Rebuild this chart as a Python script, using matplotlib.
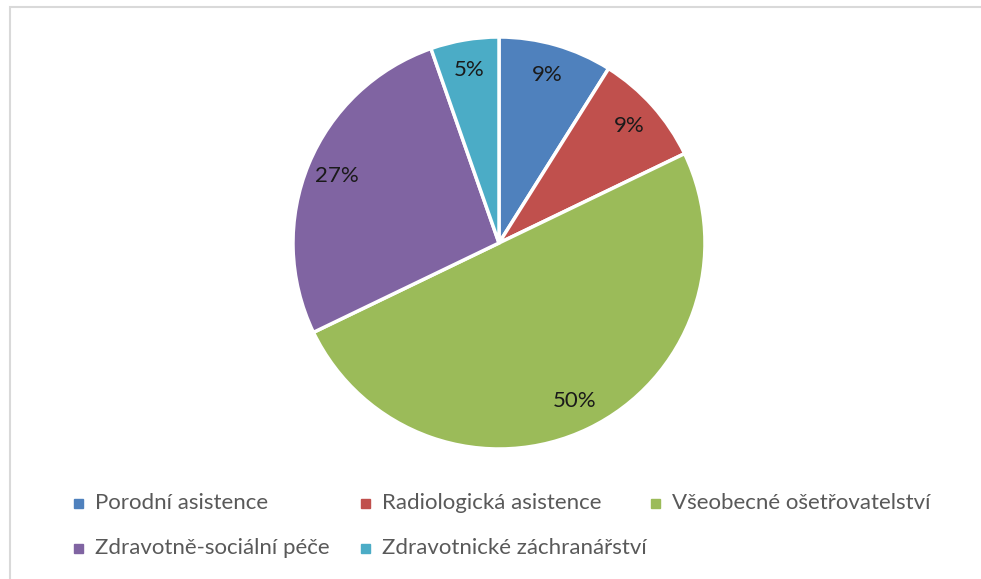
import matplotlib.pyplot as plt
from matplotlib.patches import Rectangle

labels = ['Porodní asistence', 'Radiologická asistence', 'Všeobecné ošetřovatelství',
          'Zdravotně-sociální péče', 'Zdravotnické záchranářství']
counts = [5, 5, 28, 15, 3]
colors = ['#4F81BD', '#C0504D', '#9BBB59', '#8064A2', '#4BACC6']

plt.rcParams['font.family'] = ['Lato', 'DejaVu Sans']

W, H = 981, 579
fig = plt.figure(figsize=(W / 100, H / 100), dpi=100)

# light frame (right/bottom edges fall outside the picture)
fig.patches.append(Rectangle((10 / W, -0.1), 1.2, (H - 7) / H + 0.1, transform=fig.transFigure,
                             fill=False, edgecolor='#D9D9D9', linewidth=1.5))

cx, cy, r = 499, 243, 206
ax = fig.add_axes([(cx - r) / W, (H - cy - r) / H, 2 * r / W, 2 * r / H])
wedges, texts, autotexts = ax.pie(counts, colors=colors, startangle=90, counterclock=False,
                                  autopct=lambda p: '%.0f%%' % p, pctdistance=0.85,
                                  wedgeprops=dict(edgecolor='white', linewidth=2.5),
                                  textprops=dict(fontsize=16, color='#1a1a1a'))
ax.set_xlim(-1, 1)
ax.set_ylim(-1, 1)
ax.set_aspect('equal')

# legend laid out like Excel: equal column widths, two rows
pos = [(78, 503), (365, 503), (655, 503), (78, 548), (365, 548)]
for (x, y), lab, col in zip(pos, labels, colors):
    fig.patches.append(Rectangle(((x - 4.5) / W, (H - y - 4.5) / H), 9 / W, 9 / H,
                                 transform=fig.transFigure, color=col))
    fig.text((x + 17) / W, (H - y) / H, lab, fontsize=16, color='#595959', va='center', ha='left')

fig.savefig('out.png', dpi=100)
